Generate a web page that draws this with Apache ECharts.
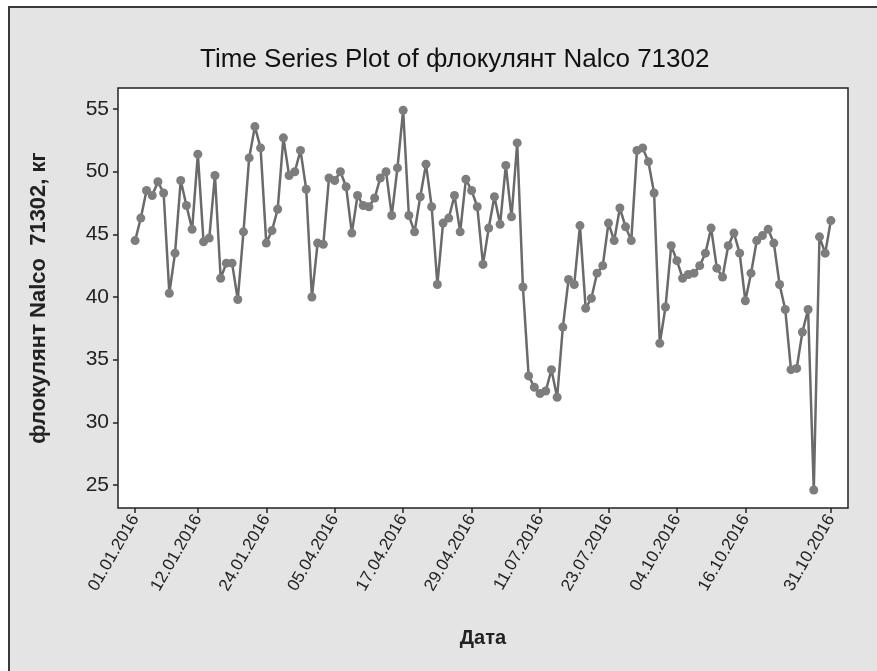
<!DOCTYPE html>
<html><head><meta charset="utf-8">
<script src="https://cdn.jsdelivr.net/npm/echarts@6/dist/echarts.min.js"></script>
<style>html,body{margin:0;padding:0;background:#fff}#c{width:877px;height:671px}</style>
</head><body><div id="c"></div>
<script>
// Daily values, Jan / Apr / Jul / Oct 2016 (123 observations)
const values = [
  44.5, 46.3, 48.5, 48.1, 49.2, 48.3, 40.3, 43.5, 49.3, 47.3,
  45.4, 51.4, 44.4, 44.7, 49.7, 41.5, 42.7, 42.7, 39.8, 45.2,
  51.1, 53.6, 51.9, 44.3, 45.3, 47.0, 52.7, 49.7, 50.0, 51.7,
  48.6, 40.0, 44.3, 44.2, 49.5, 49.3, 50.0, 48.8, 45.1, 48.1,
  47.3, 47.2, 47.9, 49.5, 50.0, 46.5, 50.3, 54.9, 46.5, 45.2,
  48.0, 50.6, 47.2, 41.0, 45.9, 46.3, 48.1, 45.2, 49.4, 48.5,
  47.2, 42.6, 45.5, 48.0, 45.8, 50.5, 46.4, 52.3, 40.8, 33.7,
  32.8, 32.3, 32.5, 34.2, 32.0, 37.6, 41.4, 41.0, 45.7, 39.1,
  39.9, 41.9, 42.5, 45.9, 44.5, 47.1, 45.6, 44.5, 51.7, 51.9,
  50.8, 48.3, 36.3, 39.2, 44.1, 42.9, 41.5, 41.8, 41.9, 42.5,
  43.5, 45.5, 42.3, 41.6, 44.1, 45.1, 43.5, 39.7, 41.9, 44.5,
  44.9, 45.4, 44.3, 41.0, 39.0, 34.2, 34.3, 37.2, 39.0, 24.6,
  44.8, 43.5, 46.1
];
const tickIndex = [0, 11, 23, 35, 47, 59, 71, 83, 95, 107, 122];
const tickLabels = ['01.01.2016', '12.01.2016', '24.01.2016', '05.04.2016', '17.04.2016',
  '29.04.2016', '11.07.2016', '23.07.2016', '04.10.2016', '16.10.2016', '31.10.2016'];
const yTicks = [25, 30, 35, 40, 45, 50, 55];

const titleText = 'Time Series Plot of флокулянт Nalco 71302';
const xName = 'Дата';
const yName = 'флокулянт Nalco  71302, кг';

const labelMap = {};
tickIndex.forEach((t, k) => { labelMap[t] = tickLabels[k]; });
const seriesData = values.map((v, i) => [i, v]);

const chart = echarts.init(document.getElementById('c'));
const FONT = 'Liberation Sans';
chart.setOption({
  backgroundColor: '#ffffff',
  animation: false,
  graphic: [{
    type: 'rect', z: -10, silent: true,
    shape: { x: 9, y: 7, width: 880, height: 680 },
    style: { fill: '#e4e4e4', stroke: '#3a3a3a', lineWidth: 2 }
  }],
  title: {
    text: titleText, left: 195, top: 42,
    textStyle: { fontFamily: FONT, fontSize: 26, fontWeight: 'normal', color: '#111' }
  },
  grid: {
    left: 118, top: 88, right: 29, bottom: 163,
    show: true, backgroundColor: '#ffffff', borderColor: '#222', borderWidth: 1.5,
    containLabel: false, outerBoundsMode: 'none'
  },
  xAxis: {
    type: 'value', min: -3, max: 125,
    name: xName, nameLocation: 'middle', nameGap: 120,
    nameTextStyle: { fontFamily: FONT, fontSize: 20, fontWeight: 'bold', color: '#222' },
    splitLine: { show: false },
    axisLine: { show: false, onZero: false },
    axisTick: { show: true, length: 5, lineStyle: { color: '#222', width: 1.5 }, customValues: tickIndex },
    axisLabel: {
      customValues: tickIndex, rotate: 60, margin: 8,
      fontFamily: FONT, fontSize: 17, color: '#222',
      formatter: v => labelMap[v] || ''
    }
  },
  yAxis: {
    type: 'value', min: 23.16, max: 56.68,
    name: yName, nameLocation: 'middle', nameGap: 68, nameRotate: 90,
    nameTextStyle: { fontFamily: FONT, fontSize: 22, fontWeight: 'bold', color: '#222' },
    splitLine: { show: false },
    axisLine: { show: false, onZero: false },
    axisTick: { show: true, length: 5, lineStyle: { color: '#222', width: 1.5 }, customValues: yTicks },
    axisLabel: {
      customValues: yTicks, margin: 9,
      fontFamily: FONT, fontSize: 21, color: '#222'
    }
  },
  series: [{
    type: 'line', data: seriesData,
    symbol: 'circle', symbolSize: 9,
    lineStyle: { color: '#6a6a6a', width: 2.5 },
    itemStyle: { color: '#7d7d7d' }
  }]
});
</script>
</body></html>
